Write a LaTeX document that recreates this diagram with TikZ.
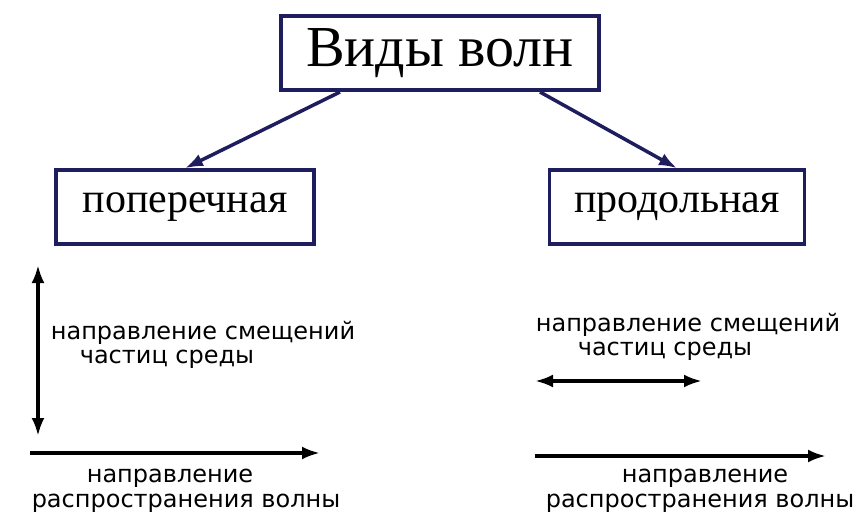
\documentclass[tikz,border=0pt]{standalone}
\usepackage{fontspec}
\setmainfont{Liberation Serif}
\newfontfamily\lab{DejaVu Sans}
\begin{document}
\begin{tikzpicture}[x=1pt,y=-1pt,
  box/.style={draw=navy,line width=3.5pt,inner sep=0pt},
  lbl/.style={font=\lab\fontsize{24}{26}\selectfont,inner sep=0pt},
  arr/.style={line width=3.5pt,-{Latex[length=18pt,width=13pt]}}]
\usetikzlibrary{arrows.meta}
\definecolor{navy}{RGB}{30,30,95}
\useasboundingbox (0,0) rectangle (868,532);
\node[box,minimum width=318pt,minimum height=74pt,font=\fontsize{58}{62}\selectfont] (t) at (440,53) {Виды волн};
\node[box,minimum width=258pt,minimum height=74pt,font=\fontsize{42}{46}\selectfont] (p) at (185,207) {поперечная};
\node[box,minimum width=255pt,minimum height=74pt,font=\fontsize{42}{46}\selectfont] (q) at (677,207) {продольная};
\coordinate (a1) at (340,92); \coordinate (a2) at (540,92);
\draw[arr,navy] (a1) -- (p.north);
\draw[arr,navy] (a2) -- (q.north);
\coordinate (v1) at (38,265); \coordinate (v2) at (38,436);
\draw[arr,{Latex[length=18pt,width=13pt]}-{Latex[length=18pt,width=13pt]}] (v1) -- (v2);
\node[lbl] (l1) at (203,333) {направление смещений};
\node[lbl] (l2) at (167,359) {частиц среды};
\coordinate (h1) at (30,453); \coordinate (h2) at (320,453);
\draw[arr] (h1) -- (h2);
\node[lbl] (l3) at (170,478) {направление};
\node[lbl] (l4) at (186,503) {распространения волны};
\node[lbl] (r1) at (688,325) {направление смещений};
\node[lbl] (r2) at (665,351) {частиц среды};
\coordinate (d1) at (535,381); \coordinate (d2) at (702,381);
\draw[arr,{Latex[length=18pt,width=13pt]}-{Latex[length=18pt,width=13pt]}] (d1) -- (d2);
\coordinate (e1) at (535,456); \coordinate (e2) at (826,456);
\draw[arr] (e1) -- (e2);
\node[lbl] (r3) at (705,478) {направление};
\node[lbl] (r4) at (700,503) {распространения волны};
\end{tikzpicture}
\end{document}
